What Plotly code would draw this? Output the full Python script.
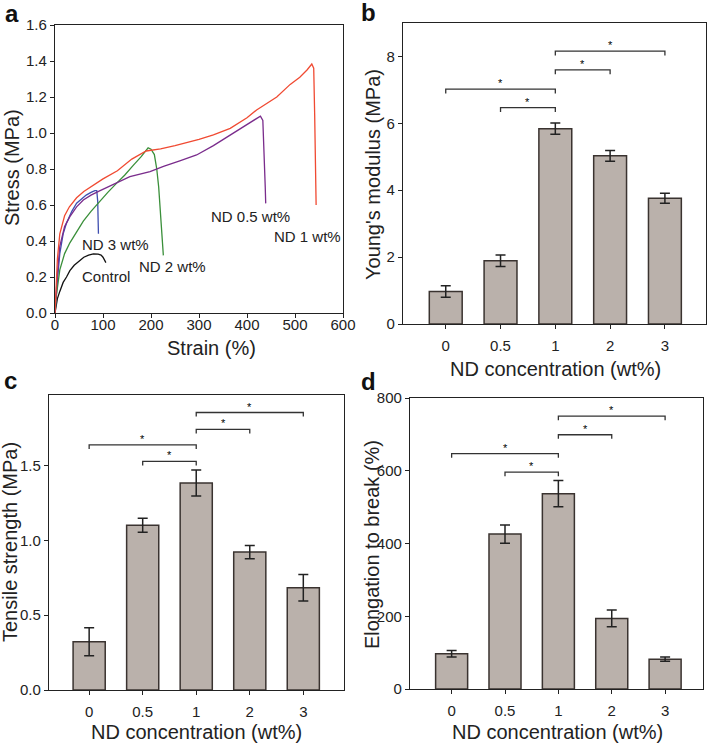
import plotly.graph_objects as go

# ---------------- data ----------------
strain_ctrl = [0, 2, 5, 10, 17, 24, 31, 40, 50, 60, 70, 80, 90, 96, 100, 103, 106]
stress_ctrl = [0, 0.04, 0.08, 0.12, 0.17, 0.20, 0.235, 0.265, 0.29, 0.31, 0.322, 0.328, 0.327, 0.322, 0.31, 0.295, 0.28]

strain_nd3 = [0, 2, 5, 10, 17, 24, 35, 45, 55, 65, 75, 83, 87, 89, 90, 90.5]
stress_nd3 = [0, 0.08, 0.18, 0.33, 0.44, 0.50, 0.565, 0.61, 0.635, 0.655, 0.67, 0.68, 0.68, 0.62, 0.5, 0.44]

strain_nd2 = [0, 3, 10, 20, 31, 45, 59, 75, 94, 110, 128, 145, 163, 180, 194, 200, 207, 212, 216, 220, 223, 225.7]
stress_nd2 = [0, 0.1, 0.24, 0.33, 0.39, 0.45, 0.51, 0.565, 0.625, 0.67, 0.72, 0.765, 0.82, 0.87, 0.918, 0.91, 0.88, 0.8, 0.7, 0.55, 0.42, 0.32]

strain_nd05 = [0, 2, 5, 10, 20, 31, 45, 59, 75, 94, 128, 156, 198, 226, 260, 295, 330, 365, 400, 420, 428, 433, 436, 438, 439]
stress_nd05 = [0, 0.1, 0.22, 0.37, 0.48, 0.535, 0.59, 0.628, 0.655, 0.68, 0.72, 0.757, 0.785, 0.815, 0.845, 0.878, 0.93, 0.989, 1.045, 1.08, 1.094, 1.07, 0.9, 0.7, 0.609]

strain_nd1 = [0, 2, 5, 10, 20, 30, 45, 60, 80, 100, 130, 160, 190, 220, 250, 280, 300, 330, 365, 400, 420, 462, 490, 510, 525, 535, 539, 541, 543, 544]
stress_nd1 = [0, 0.15, 0.30, 0.44, 0.54, 0.59, 0.64, 0.675, 0.71, 0.745, 0.79, 0.855, 0.9, 0.912, 0.93, 0.95, 0.965, 0.99, 1.026, 1.085, 1.128, 1.20, 1.27, 1.31, 1.35, 1.383, 1.36, 1.1, 0.8, 0.6]

strain_ticks = [0, 100, 200, 300, 400, 500, 600]
stress_ticks = [0, 0.2, 0.4, 0.6, 0.8, 1.0, 1.2, 1.4, 1.6]

conc = ["0", "0.5", "1", "2", "3"]
modulus = [0.97, 1.89, 5.84, 5.03, 3.76]
modulus_err = [0.17, 0.17, 0.17, 0.16, 0.15]
tensile = [0.322, 1.10, 1.382, 0.921, 0.683]
tensile_err = [0.094, 0.047, 0.087, 0.044, 0.089]
elong = [97, 426, 537, 194, 82]
elong_err = [9, 25, 36, 23, 6]

sig_pairs = [(0, 2), (1, 2), (2, 3), (2, 4)]
sig_mod = [7.02, 6.47, 7.6, 8.16]
sig_ten = [1.637, 1.527, 1.74, 1.853]
sig_elo = [647, 596, 699, 750]

modulus_ticks = [0, 2, 4, 6, 8]
tensile_ticks = [0, 0.5, 1.0, 1.5]
elong_ticks = [0, 200, 400, 600, 800]

# ---------------- figure ----------------
W, H = 709, 745
FONT = "Liberation Sans, Arial, sans-serif"
TXT = "#222222"
BAR = "#bab1ab"
EDGE = "#3a3330"

def px(x):
    return x / W

def py(y):
    return 1 - y / H

# panel boxes in pixels: (left, right, bottom, top)
boxes = {
    "a": (55, 343, 313, 25),
    "b": (403, 706, 324, 23),
    "c": (49, 344, 690, 395),
    "d": (410, 703, 689, 398),
}

fig = go.Figure()

curves = [
    (strain_ctrl, stress_ctrl, "#111111"),
    (strain_nd3, stress_nd3, "#3f4fb0"),
    (strain_nd2, stress_nd2, "#3a8f3a"),
    (strain_nd05, stress_nd05, "#7a2c8c"),
    (strain_nd1, stress_nd1, "#f04a32"),
]
for sx, sy, col in curves:
    fig.add_trace(go.Scatter(x=sx, y=sy, mode="lines", line=dict(color=col, width=1.3),
                             xaxis="x", yaxis="y", showlegend=False))

idx = list(range(len(conc)))
bar_sets = [
    (modulus, modulus_err, sig_mod, "x2", "y2", 0.13),
    (tensile, tensile_err, sig_ten, "x3", "y3", 0.027),
    (elong, elong_err, sig_elo, "x4", "y4", 11),
]
annotations = []
for vals, errs, sigs, xa, ya, dep in bar_sets:
    fig.add_trace(go.Bar(x=idx, y=vals, width=0.6, marker=dict(color=BAR, line=dict(color=EDGE, width=1.5)),
                         error_y=dict(type="data", array=errs, color="#222", thickness=1.5, width=5),
                         xaxis=xa, yaxis=ya, showlegend=False))
    for (l, r), h in zip(sig_pairs, sigs):
        fig.add_trace(go.Scatter(x=[l, l, r, r], y=[h - dep, h, h, h - dep], mode="lines",
                                 line=dict(color="#333", width=1.3), xaxis=xa, yaxis=ya,
                                 showlegend=False, hoverinfo="skip"))
        annotations.append(dict(x=(l + r) / 2, y=h, xref=xa, yref=ya, text="*", showarrow=False,
                                yanchor="bottom", yshift=-2, font=dict(size=11, color="#000", family=FONT)))

axis_common = dict(showline=True, linecolor="#222", linewidth=1.3, mirror=True, ticks="outside",
                   ticklen=4, tickwidth=1.2, tickcolor="#222", showgrid=False, zeroline=False,
                   automargin=False, tickfont=dict(size=15, color=TXT, family=FONT))

ba, bb, bc, bd = boxes["a"], boxes["b"], boxes["c"], boxes["d"]
fig.update_layout(
    template="none",
    width=W, height=H, margin=dict(l=0, r=0, t=0, b=0, pad=0),
    paper_bgcolor="white", plot_bgcolor="white", showlegend=False,
    font=dict(family=FONT, color=TXT),
    xaxis=dict(axis_common, domain=[px(ba[0]), px(ba[1])], range=[0, 600], tickvals=strain_ticks, anchor="y",
               ticklabelstandoff=-6),
    yaxis=dict(axis_common, domain=[py(ba[2]), py(ba[3])], range=[0, 1.6], tickvals=stress_ticks,
               tickformat=".1f", anchor="x"),
    xaxis2=dict(axis_common, domain=[px(bb[0]), px(bb[1])], range=[-0.78, 4.75], tickvals=idx, ticktext=conc,
                anchor="y2", ticklabelstandoff=4),
    yaxis2=dict(axis_common, domain=[py(bb[2]), py(bb[3])], range=[0, 9], tickvals=modulus_ticks, anchor="x2"),
    xaxis3=dict(axis_common, domain=[px(bc[0]), px(bc[1])], range=[-0.75, 4.76], tickvals=idx, ticktext=conc,
                anchor="y3", ticklabelstandoff=4),
    yaxis3=dict(axis_common, domain=[py(bc[2]), py(bc[3])], range=[0, 1.97], tickvals=tensile_ticks,
                tickformat=".1f", anchor="x3"),
    xaxis4=dict(axis_common, domain=[px(bd[0]), px(bd[1])], range=[-0.78, 4.71], tickvals=idx, ticktext=conc,
                anchor="y4", ticklabelstandoff=4),
    yaxis4=dict(axis_common, domain=[py(bd[2]), py(bd[3])], range=[0, 800], tickvals=elong_ticks, anchor="x4"),
)

curve_labels = [("ND 3 wt%", 125, 0.383), ("Control", 106, 0.205), ("ND 2 wt%", 245, 0.26),
                ("ND 0.5 wt%", 408, 0.538), ("ND 1 wt%", 526, 0.424)]
for t, x, y in curve_labels:
    annotations.append(dict(x=x, y=y, xref="x", yref="y", text=t, showarrow=False,
                            font=dict(size=15, color=TXT, family=FONT)))

titles = [
    ("Strain (%)", 211, 348, 0), ("Stress (MPa)", 12, 168, -90),
    ("ND concentration (wt%)", 555, 369, 0), ("Young's modulus (MPa)", 373, 174, -90),
    ("ND concentration (wt%)", 196, 732, 0), ("Tensile strength (MPa)", 10, 542, -90),
    ("ND concentration (wt%)", 557, 732, 0), ("Elongation to break (%)", 372, 545, -90),
]
for t, x, y, ang in titles:
    annotations.append(dict(x=px(x), y=py(y), xref="paper", yref="paper", text=t, showarrow=False,
                            textangle=ang, xanchor="center", yanchor="middle",
                            font=dict(size=20, color=TXT, family=FONT)))

for t, x, y in [("a", 12, 14), ("b", 368, 12), ("c", 10, 380), ("d", 368, 381)]:
    annotations.append(dict(x=px(x), y=py(y), xref="paper", yref="paper", text="<b>%s</b>" % t,
                            showarrow=False, xanchor="center", yanchor="middle",
                            font=dict(size=24, color="#111", family=FONT)))

fig.update_layout(annotations=annotations)
fig.write_html("out.html", config={"displayModeBar": False},
               post_script="document.body.style.margin='0';document.body.style.padding='0';")
